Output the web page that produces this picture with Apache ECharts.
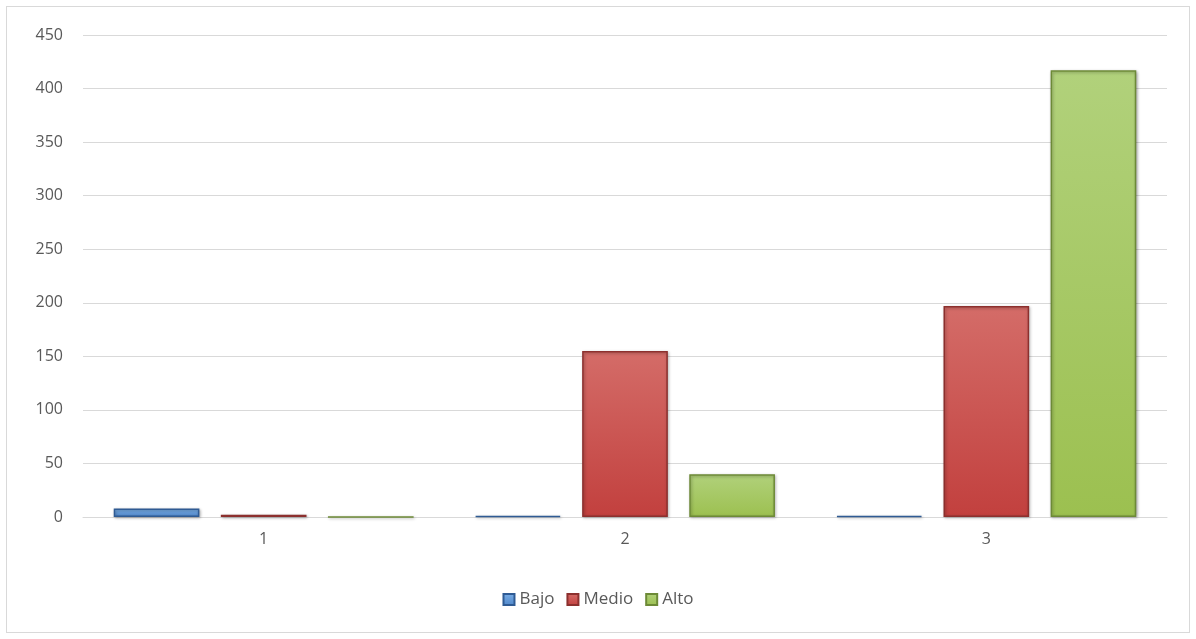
<!DOCTYPE html>
<html><head><meta charset="utf-8">
<script src="https://cdn.jsdelivr.net/npm/echarts@6/dist/echarts.min.js"></script>
<style>html,body{margin:0;padding:0;background:#fff}#c{width:1196px;height:639px;}
#frame{position:absolute;left:6px;top:6px;width:1184px;height:627px;border:1px solid #d9d9d9;box-sizing:border-box;pointer-events:none}</style>
</head><body><div id="c"></div><div id="frame"></div>
<script>
const categories = ['1','2','3'];
const bajo = [8, 1, 1];
const medio = [2, 155, 197];
const alto = [0, 40, 417];

function grad(top, bottom){
  return new echarts.graphic.LinearGradient(0,0,0,1,[
    {offset:0,color:top},{offset:1,color:bottom}]);
}
const chart = echarts.init(document.getElementById('c'));
const font = "'Open Sans', 'Liberation Sans', sans-serif";
function mk(name, data, top, bottom, border){
  return {name, type:'bar', data, barGap:'25%', barCategoryGap:'17%',
    itemStyle:{color:grad(top,bottom), borderColor:border, borderWidth:1.5,
      shadowColor:'rgba(0,0,0,0.3)', shadowBlur:3, shadowOffsetX:1, shadowOffsetY:1}};
}
chart.setOption({
  animation:false,
  grid:{left:83,right:29,top:35,bottom:122},
  legend:{bottom:26,left:'center',itemWidth:11,itemHeight:11,itemGap:12,
    textStyle:{fontFamily:font,fontSize:17,color:'#595959'},
    data:[{name:'Bajo',icon:'rect'},{name:'Medio',icon:'rect'},{name:'Alto',icon:'rect'}]},
  xAxis:{type:'category',data:categories,
    axisLine:{lineStyle:{color:'#d9d9d9',width:1}},axisTick:{show:false},
    axisLabel:{fontFamily:font,fontSize:16,color:'#595959',margin:14}},
  yAxis:{type:'value',min:0,max:450,interval:50,
    axisLine:{show:false},axisTick:{show:false},
    splitLine:{lineStyle:{color:'#d9d9d9',width:1}},
    axisLabel:{fontFamily:font,fontSize:16,color:'#595959',margin:20}},
  series:[
    mk('Bajo',bajo,'#7aaee6','#4f86c9','#2f5b94'),
    mk('Medio',medio,'#d46c68','#c2403e','#8c302e'),
    mk('Alto',alto,'#b1d17b','#9cc050','#6d8a37')
  ]
});
</script></body></html>
